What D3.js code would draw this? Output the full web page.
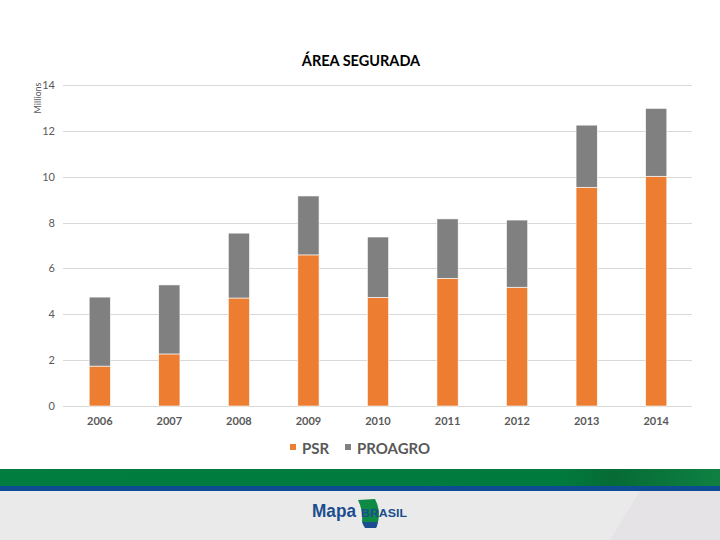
<!DOCTYPE html>
<html>
<head>
<meta charset="utf-8">
<script src="https://cdn.jsdelivr.net/npm/d3@7"></script>
<style>
  body { margin: 0; background: #fff; }
  svg { display: block; }
</style>
</head>
<body>
<svg></svg>
<script>
// values in millions of hectares
const years = ['2006', '2007', '2008', '2009', '2010', '2011', '2012', '2013', '2014']
const psr = [1.74, 2.27, 4.71, 6.59, 4.74, 5.57, 5.18, 9.54, 10.02]
const proagro = [3.01, 3.01, 2.83, 2.57, 2.63, 2.59, 2.93, 2.71, 2.96]
const yTicks = [0, 2, 4, 6, 8, 10, 12, 14]
const seriesNames = ['PSR', 'PROAGRO']
const seriesColors = ['#ED7D31', '#808080']

const width = 720
const height = 540
const margin = ({ top: 85, right: 29, bottom: 134, left: 65 })

const rows = years.map((year, i) => ({ year: year, PSR: psr[i], PROAGRO: proagro[i] }))
const stacked = d3.stack().keys(seriesNames)(rows)

const x = d3.scaleBand()
  .domain(years)
  .range([margin.left, width - margin.right])
  .paddingInner(0.695)
  .paddingOuter(0.3475)

const y = d3.scaleLinear()
  .domain([0, 14])
  .range([height - margin.bottom, margin.top])

const color = d3.scaleOrdinal().domain(seriesNames).range(seriesColors)

const svg = d3.select('svg')
  .attr('width', width)
  .attr('height', height)
  .attr('font-family', 'Lato, "Open Sans", sans-serif')

function grid (g) {
  g.selectAll('line')
    .data(yTicks)
    .enter().append('line')
    .attr('x1', margin.left - 2)
    .attr('x2', width - margin.right + 1)
    .attr('y1', d => Math.round(y(d)) + 0.5)
    .attr('y2', d => Math.round(y(d)) + 0.5)
    .attr('stroke', '#d9d9d9')
    .attr('stroke-width', 1)
}

function yAxis (g) {
  g
    .attr('transform', `translate(${margin.left - 10},0)`)
    .call(d3.axisLeft(y).tickValues(yTicks).tickSize(0).tickPadding(0))
    .call(g => g.select('.domain').remove())
    .call(g => g.selectAll('text')
      .attr('fill', '#595959')
      .attr('font-size', '11px')
      .attr('font-family', 'Lato, "Open Sans", sans-serif'))
}

function xAxis (g) {
  g
    .attr('transform', `translate(0,${height - margin.bottom + 11})`)
    .call(d3.axisBottom(x).tickSize(0).tickPadding(0))
    .call(g => g.select('.domain').remove())
    .call(g => g.selectAll('text')
      .attr('fill', '#595959')
      .attr('font-size', '11px')
      .attr('font-weight', 'bold')
      .attr('font-family', 'Lato, "Open Sans", sans-serif'))
}

function bars (g) {
  g.selectAll('g')
    .data(stacked)
    .enter().append('g')
    .attr('fill', d => color(d.key))
    .selectAll('rect')
    .data(d => d)
    .enter().append('rect')
    .attr('x', d => x(d.data.year))
    .attr('width', x.bandwidth())
    .attr('y', d => y(d[1]))
    .attr('height', d => y(d[0]) - y(d[1]))
    .attr('stroke', '#fff')
    .attr('stroke-width', 0.6)
}

svg.append('g').call(grid)
svg.append('g').call(bars)
svg.append('g').call(yAxis)
svg.append('g').call(xAxis)

// title
svg.append('text')
  .attr('x', 361)
  .attr('y', 66)
  .attr('text-anchor', 'middle')
  .attr('font-size', '14.5px')
  .attr('font-weight', 'bold')
  .attr('fill', '#000')
  .text('ÁREA SEGURADA')

// units label
svg.append('text')
  .attr('transform', 'translate(41,98) rotate(-90)')
  .attr('text-anchor', 'middle')
  .attr('font-size', '9px')
  .attr('fill', '#595959')
  .text('Millions')

// legend
const legend = svg.append('g')
  .attr('font-size', '15px')
  .attr('font-weight', 'bold')
  .attr('fill', '#595959')
const legendX = [290, 345]
seriesNames.forEach((name, i) => {
  legend.append('rect')
    .attr('x', legendX[i])
    .attr('y', 444)
    .attr('width', 6)
    .attr('height', 6)
    .attr('fill', color(name))
  legend.append('text')
    .attr('x', legendX[i] + 12)
    .attr('y', 453.5)
    .attr('fill', '#595959')
    .text(name)
})

// footer band
const grad = svg.append('defs').append('linearGradient')
  .attr('id', 'greenband')
  .attr('x1', 0).attr('x2', 1)
grad.append('stop').attr('offset', '0').attr('stop-color', '#017D40')
grad.append('stop').attr('offset', '0.78').attr('stop-color', '#017A3D')
grad.append('stop').attr('offset', '0.85').attr('stop-color', '#066B35')
grad.append('stop').attr('offset', '1').attr('stop-color', '#0F8042')

svg.append('rect')
  .attr('x', 0).attr('y', 491).attr('width', width).attr('height', 49)
  .attr('fill', '#EAEAEB')
svg.append('path')
  .attr('d', 'M610,540 L640,491 L720,491 L720,540 Z')
  .attr('fill', '#E6E3E6')
svg.append('rect')
  .attr('x', 0).attr('y', 469).attr('width', width).attr('height', 18)
  .attr('fill', 'url(#greenband)')
svg.append('rect')
  .attr('x', 0).attr('y', 486).attr('width', width).attr('height', 5)
  .attr('fill', '#0D4C92')

// logo
const logo = svg.append('g')
logo.append('text')
  .attr('x', 312)
  .attr('y', 517)
  .attr('font-family', '"Liberation Sans Narrow", "Liberation Sans", sans-serif')
  .attr('font-weight', 'bold')
  .attr('font-size', '19px')
  .attr('textLength', 44)
  .attr('lengthAdjust', 'spacingAndGlyphs')
  .attr('fill', '#1B4E8E')
  .text('Mapa')
logo.append('path')
  .attr('d', 'M358,500 L375,499 Q381,510 378,522 L362,522 Q363,510 358,500 Z')
  .attr('fill', '#0F8A45')
logo.append('path')
  .attr('d', 'M362,522 L378,522 Q377,527 376,528 L365,528 Q363,525 362,522 Z')
  .attr('fill', '#1B4E8E')
logo.append('text')
  .attr('x', 361)
  .attr('y', 517)
  .attr('font-family', '"Liberation Sans Narrow", "Liberation Sans", sans-serif')
  .attr('font-weight', 'bold')
  .attr('font-size', '11px')
  .attr('textLength', 46)
  .attr('lengthAdjust', 'spacingAndGlyphs')
  .attr('fill', '#1B4E8E')
  .text('BRASIL')
</script>
</body>
</html>
